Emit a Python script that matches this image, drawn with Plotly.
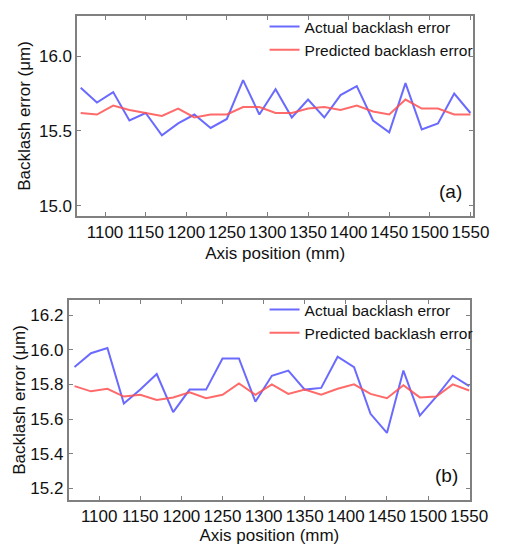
import plotly.graph_objects as go

# axis positions (mm)
position = [1070, 1090, 1110, 1130, 1150, 1170, 1190, 1210, 1230, 1250, 1270, 1290, 1310,
            1330, 1350, 1370, 1390, 1410, 1430, 1450, 1470, 1490, 1510, 1530, 1550]

# (a)
actual_a = [15.79, 15.69, 15.76, 15.57, 15.62, 15.47, 15.55, 15.61, 15.52, 15.58, 15.84, 15.61, 15.78,
            15.59, 15.71, 15.59, 15.74, 15.80, 15.57, 15.49, 15.82, 15.51, 15.55, 15.75, 15.62]
predicted_a = [15.62, 15.61, 15.67, 15.64, 15.62, 15.60, 15.65, 15.59, 15.61, 15.61, 15.66, 15.66, 15.62,
               15.62, 15.65, 15.66, 15.64, 15.67, 15.63, 15.61, 15.71, 15.65, 15.65, 15.61, 15.61]

# (b)
actual_b = [15.90, 15.98, 16.01, 15.69, 15.77, 15.86, 15.64, 15.77, 15.77, 15.95, 15.95, 15.70, 15.85,
            15.88, 15.77, 15.78, 15.96, 15.90, 15.63, 15.52, 15.88, 15.62, 15.73, 15.85, 15.79]
predicted_b = [15.79, 15.76, 15.775, 15.73, 15.74, 15.71, 15.725, 15.755, 15.72, 15.74, 15.805, 15.74, 15.80,
               15.745, 15.77, 15.74, 15.775, 15.80, 15.745, 15.72, 15.795, 15.725, 15.73, 15.80, 15.765]

xticks = [1100, 1150, 1200, 1250, 1300, 1350, 1400, 1450, 1500, 1550]
yticks_a = [15.0, 15.5, 16.0]
yticks_b = [15.2, 15.4, 15.6, 15.8, 16.0, 16.2]

W, H = 507, 545
blue = "rgba(80,80,255,0.85)"
red = "rgba(255,80,80,0.85)"
font = "Liberation Sans, Arial, sans-serif"

fig = go.Figure()
fig.add_trace(go.Scatter(x=position, y=actual_a, mode="lines", name="Actual backlash error",
                         line=dict(color=blue, width=2), xaxis="x", yaxis="y", legend="legend"))
fig.add_trace(go.Scatter(x=position, y=predicted_a, mode="lines", name="Predicted backlash error",
                         line=dict(color=red, width=2), xaxis="x", yaxis="y", legend="legend"))
fig.add_trace(go.Scatter(x=position, y=actual_b, mode="lines", name="Actual backlash error",
                         line=dict(color=blue, width=2), xaxis="x2", yaxis="y2", legend="legend2"))
fig.add_trace(go.Scatter(x=position, y=predicted_b, mode="lines", name="Predicted backlash error",
                         line=dict(color=red, width=2), xaxis="x2", yaxis="y2", legend="legend2"))

ax = dict(showline=True, linecolor="#808080", linewidth=2, mirror="ticks", ticks="inside",
          ticklen=4, tickcolor="#808080", showgrid=False, zeroline=False,
          tickfont=dict(size=17, color="#111"))

fig.update_layout(
    width=W, height=H, margin=dict(l=0, r=0, t=0, b=0),
    paper_bgcolor="white", plot_bgcolor="white",
    font=dict(family=font, color="#111"),
    xaxis=dict(ax, domain=[72 / W, 482 / W], range=[1066, 1553], tickvals=xticks, anchor="y",
               title=dict(text="Axis position (mm)", font=dict(size=17), standoff=6)),
    yaxis=dict(ax, domain=[1 - 208 / H, 1 - 8 / H], range=[14.93, 16.27], tickvals=yticks_a,
               tickformat=".1f", anchor="x",
               title=dict(text="Backlash error (μm)", font=dict(size=17), standoff=4)),
    xaxis2=dict(ax, domain=[63 / W, 479 / W], range=[1063, 1551], tickvals=xticks, anchor="y2",
                title=dict(text="Axis position (mm)", font=dict(size=17), standoff=4)),
    yaxis2=dict(ax, domain=[1 - 492 / H, 1 - 292 / H], range=[15.133, 16.287], tickvals=yticks_b,
                tickformat=".1f", anchor="x2",
                title=dict(text="Backlash error (μm)", font=dict(size=17), standoff=0)),
    legend=dict(x=266 / W, y=1 - 2 / H, xanchor="left", yanchor="top", bgcolor="rgba(0,0,0,0)",
                font=dict(size=15.5), tracegroupgap=0),
    legend2=dict(x=266 / W, y=1 - 285 / H, xanchor="left", yanchor="top", bgcolor="rgba(0,0,0,0)",
                 font=dict(size=15.5), tracegroupgap=0),
    annotations=[
        dict(text="(a)", x=1553, y=14.93, xref="x", yref="y", xanchor="right", yanchor="bottom",
             xshift=-9, yshift=12, showarrow=False, font=dict(size=19)),
        dict(text="(b)", x=1551, y=15.133, xref="x2", yref="y2", xanchor="right", yanchor="bottom",
             xshift=-10, yshift=12, showarrow=False, font=dict(size=19)),
    ],
)

fig.write_html("out.html")
